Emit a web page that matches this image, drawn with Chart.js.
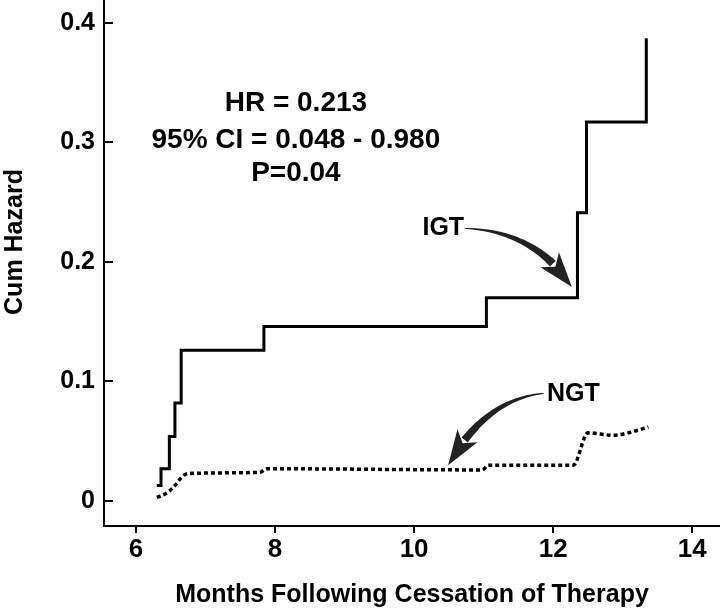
<!DOCTYPE html>
<html>
<head>
<meta charset="utf-8">
<script src="https://cdn.jsdelivr.net/npm/chart.js@4"></script>
<style>
  html, body { margin: 0; padding: 0; background: #fff; }
  canvas { display: block; }
</style>
</head>
<body>
<canvas id="chart" width="720" height="610"></canvas>
<script>
// IGT: cumulative hazard steps (month of event, value after event)
const igtMonths = [6.30, 6.36, 6.48, 6.56, 6.65, 7.84, 11.04, 12.35, 12.48, 13.34];
const igtHazard = [0.013, 0.027, 0.054, 0.082, 0.126, 0.146, 0.170, 0.241, 0.317, 0.387];

// NGT: smoothed dotted curve
const ngtMonths = [6.30, 6.45, 6.56, 6.66, 6.75, 7.78, 7.88, 10.98, 11.07, 12.29, 12.50, 12.86, 13.15, 13.37];
const ngtHazard = [0.003, 0.007, 0.013, 0.020, 0.023, 0.024, 0.027, 0.026, 0.030, 0.030, 0.057, 0.055, 0.058, 0.062];

const xTicks = [6, 8, 10, 12, 14];
const yTicks = [0, 0.1, 0.2, 0.3, 0.4];
const yTickLabels = ["0", "0.1", "0.2", "0.3", "0.4"];

const statLines = ["HR = 0.213", "95% CI = 0.048 - 0.980", "P=0.04"];

const FONT = "'Liberation Sans', Arial, Helvetica, sans-serif";

const toPts = (xs, ys) => xs.map((x, i) => ({ x, y: ys[i] }));

function taperedArrow(ctx, p0, c, p2, w0, w1, headLen, headW) {
  const pt = (t) => ({
    x: (1 - t) ** 2 * p0.x + 2 * (1 - t) * t * c.x + t * t * p2.x,
    y: (1 - t) ** 2 * p0.y + 2 * (1 - t) * t * c.y + t * t * p2.y,
  });
  const dist = (a, b) => Math.hypot(a.x - b.x, a.y - b.y);
  let tb = 1;
  while (tb > 0 && dist(pt(tb), p2) < headLen) tb -= 0.002;
  const left = [], right = [];
  const n = 40;
  for (let i = 0; i <= n; i++) {
    const t = (tb * i) / n;
    const p = pt(t);
    let dx = 2 * (1 - t) * (c.x - p0.x) + 2 * t * (p2.x - c.x);
    let dy = 2 * (1 - t) * (c.y - p0.y) + 2 * t * (p2.y - c.y);
    const len = Math.hypot(dx, dy) || 1;
    dx /= len; dy /= len;
    const w = (w0 + (w1 - w0) * (i / n)) / 2;
    left.push({ x: p.x - dy * w, y: p.y + dx * w });
    right.push({ x: p.x + dy * w, y: p.y - dx * w });
  }
  ctx.beginPath();
  left.forEach((p, i) => (i ? ctx.lineTo(p.x, p.y) : ctx.moveTo(p.x, p.y)));
  for (let i = right.length - 1; i >= 0; i--) ctx.lineTo(right[i].x, right[i].y);
  ctx.closePath();
  ctx.fill();
  const b = pt(tb);
  let ux = p2.x - b.x, uy = p2.y - b.y;
  const ul = Math.hypot(ux, uy) || 1;
  ux /= ul; uy /= ul;
  ctx.beginPath();
  ctx.moveTo(p2.x, p2.y);
  ctx.lineTo(b.x - uy * headW - ux * 5, b.y + ux * headW - uy * 5);
  ctx.lineTo(b.x + ux * 4, b.y + uy * 4);
  ctx.lineTo(b.x + uy * headW - ux * 5, b.y - ux * headW - uy * 5);
  ctx.closePath();
  ctx.fill();
}

const annotations = {
  id: "annotations",
  afterDraw(chart) {
    const { ctx, chartArea, scales: { x, y } } = chart;
    const P = (mx, vy) => ({ x: x.getPixelForValue(mx), y: y.getPixelForValue(vy) });
    ctx.save();

    // inward tick marks on the y axis
    ctx.strokeStyle = "#000";
    ctx.lineWidth = 2;
    for (const v of yTicks) {
      const py = Math.round(y.getPixelForValue(v));
      ctx.beginPath();
      ctx.moveTo(chartArea.left, py);
      ctx.lineTo(chartArea.left + 9, py);
      ctx.stroke();
    }

    // y axis title
    ctx.fillStyle = "#000";
    ctx.font = `bold 25px ${FONT}`;
    ctx.textAlign = "center";
    ctx.textBaseline = "middle";
    ctx.save();
    ctx.translate(15, 242);
    ctx.rotate(-Math.PI / 2);
    ctx.fillText("Cum Hazard", 0, 0);
    ctx.restore();

    // stats block
    ctx.font = `bold 28px ${FONT}`;
    const statY = [0.333, 0.302, 0.274];
    statLines.forEach((s, i) => {
      const p = P(8.30, statY[i]);
      ctx.fillText(s, p.x, p.y);
    });

    // group labels
    ctx.font = `bold 25px ${FONT}`;
    let p = P(10.42, 0.228);
    ctx.fillText("IGT", p.x, p.y);
    p = P(12.29, 0.0895);
    ctx.fillText("NGT", p.x, p.y);

    // arrows
    ctx.fillStyle = "#222";
    taperedArrow(ctx, P(10.73, 0.228), P(11.74, 0.226), P(12.27, 0.179), 1, 8, 30, 12);
    taperedArrow(ctx, P(11.86, 0.090), P(11.02, 0.085), P(10.49, 0.030), 1, 8, 30, 12);
    ctx.restore();
  },
};

new Chart(document.getElementById("chart"), {
  type: "line",
  data: {
    datasets: [
      {
        label: "IGT",
        data: toPts(igtMonths, igtHazard),
        stepped: true,
        borderColor: "#000",
        borderWidth: 3,
        borderJoinStyle: "miter",
        pointRadius: 0,
        fill: false,
      },
      {
        label: "NGT",
        data: toPts(ngtMonths, ngtHazard),
        borderColor: "#000",
        borderWidth: 3.5,
        borderDash: [4, 3],
        cubicInterpolationMode: "monotone",
        pointRadius: 0,
        fill: false,
      },
    ],
  },
  options: {
    responsive: false,
    animation: false,
    devicePixelRatio: 1,
    layout: { padding: 0 },
    plugins: { legend: { display: false }, tooltip: { enabled: false } },
    scales: {
      x: {
        type: "linear",
        min: 5.54,
        max: 14.40,
        afterFit: (s) => { s.height = 84; s.paddingLeft = 0; s.paddingRight = 0; },
        afterBuildTicks: (s) => { s.ticks = xTicks.map((v) => ({ value: v })); },
        border: { display: true, color: "#000", width: 2 },
        grid: { display: true, drawOnChartArea: false, color: "#000", lineWidth: 2, tickLength: 7 },
        ticks: { color: "#000", padding: 1, font: { family: FONT, size: 26, weight: "bold" } },
        title: {
          display: true,
          text: "Months Following Cessation of Therapy",
          color: "#000",
          padding: 0,
          font: { family: FONT, size: 25, weight: "bold" },
        },
      },
      y: {
        min: -0.0209,
        max: 0.419,
        afterFit: (s) => { s.width = 104; s.paddingTop = 0; s.paddingBottom = 0; },
        afterBuildTicks: (s) => { s.ticks = yTicks.map((v) => ({ value: v })); },
        border: { display: true, color: "#000", width: 2 },
        grid: { display: false, drawTicks: false },
        ticks: {
          color: "#000",
          padding: 9,
          font: { family: FONT, size: 25, weight: "bold" },
          callback: (v, i) => yTickLabels[i],
        },
      },
    },
  },
  plugins: [annotations],
});
</script>
</body>
</html>
